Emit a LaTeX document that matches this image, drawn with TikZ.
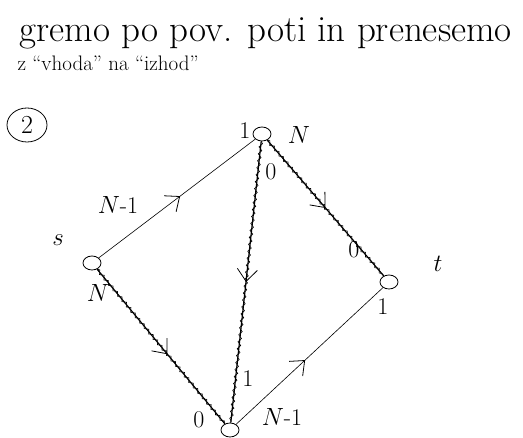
\documentclass[tikz,border=0pt]{standalone}
\usepackage{fontspec}
\usetikzlibrary{shapes.geometric,arrows.meta,decorations.pathmorphing,decorations.markings}
\tikzset{
  vert/.style={draw,thick,ellipse,minimum width=18pt,minimum height=14pt,inner sep=0pt},
  lab/.style={font=\fontsize{24}{26}\selectfont},
  midarrow/.style={postaction={decorate,decoration={markings,
      mark=at position #1 with {\arrow[thick]{Straight Barb[length=12pt,width=20pt]}}}}},
  flowedge/.style={semithick},
  pathedge/.style={very thick,postaction={draw,semithick,decorate,
      decoration={snake,amplitude=1.6pt,segment length=7pt}}}
}
\begin{document}
\begin{tikzpicture}[x=1pt,y=-1pt]
\useasboundingbox (0,0) rectangle (523,438);
% naslov
\node[anchor=west,font=\fontsize{37}{40}\selectfont] (naslov) at (16,33) {gremo po pov. poti in prenesemo};
\node[anchor=west,font=\fontsize{21}{23}\selectfont] (podnaslov) at (14,63) {z ``vhoda'' na ``izhod''};
\node[draw,thick,ellipse,minimum width=40pt,minimum height=34pt,font=\fontsize{26}{28}\selectfont] (num) at (27,125) {2};
% vozlisca
\node[vert] (s) at (92,263) {};
\node[vert] (a) at (262,134) {};
\node[vert] (t) at (389,282) {};
\node[vert] (b) at (230,430) {};
% povezave
\draw[flowedge,midarrow=0.52] (s) -- (a);
\draw[flowedge,midarrow=0.47] (b) -- (t);
\draw[pathedge,midarrow=0.55] (s) -- (b);
\draw[pathedge,midarrow=0.5] (a) -- (t);
\draw[pathedge,midarrow=0.5] (a) -- (b);
% oznake
\node[lab] (ls) at (58,240) {$s$};
\node[lab] (lt) at (438,264) {$t$};
\node[lab] (la1) at (245,131) {1};
\node[lab] (laN) at (299,135) {$N$};
\node[lab] (lab0) at (271,172) {0};
\node[lab] (lsa) at (118,205) {$N$-1};
\node[lab] (lsb) at (98,293) {$N$};
\node[lab] (lat) at (354,250) {0};
\node[lab] (ltb) at (383,307) {1};
\node[lab] (lba1) at (248,379) {1};
\node[lab] (lbt) at (282,417) {$N$-1};
\node[lab] (lbs) at (199,420) {0};
\end{tikzpicture}
\end{document}
